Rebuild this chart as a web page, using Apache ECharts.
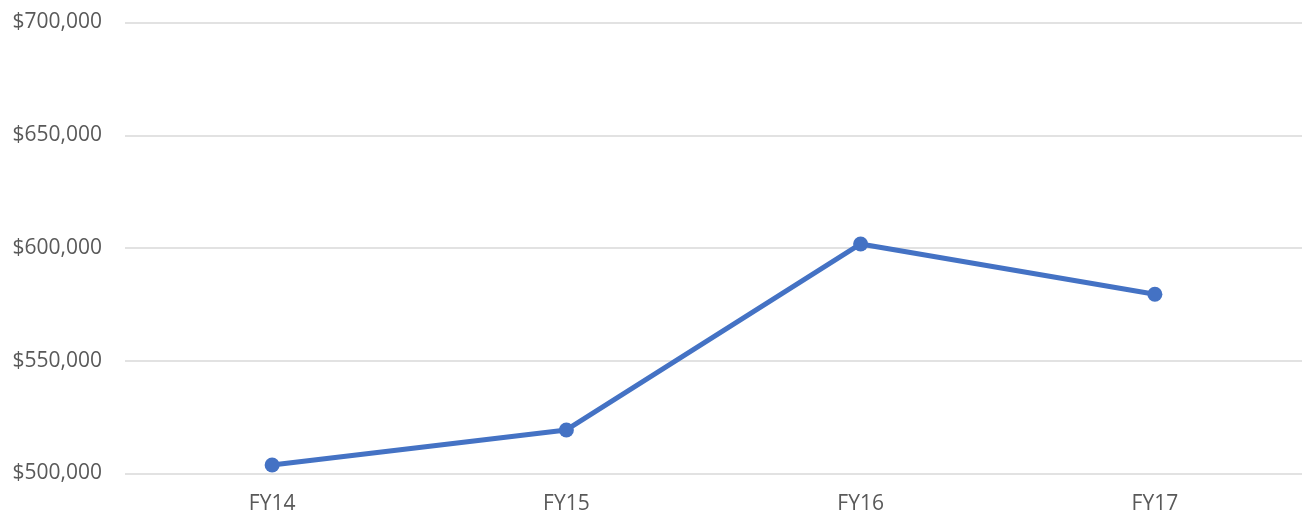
<!DOCTYPE html>
<html>
<head>
<meta charset="utf-8">
<script src="https://cdn.jsdelivr.net/npm/echarts@6/dist/echarts.min.js"></script>
<style>html,body{margin:0;padding:0;background:#fff;}#c{width:1309px;height:521px;}</style>
</head>
<body>
<div id="c"></div>
<script>
const categories = ["FY14", "FY15", "FY16", "FY17"];
const values = [503800, 519300, 601800, 579500];
const yMin = 500000, yMax = 700000, yStep = 50000;

const chart = echarts.init(document.getElementById('c'));
chart.setOption({
  animation: false,
  grid: { left: 125, right: 7, top: 22.5, bottom: 47.5 },
  xAxis: {
    type: 'category',
    data: categories,
    boundaryGap: true,
    axisLine: { show: false },
    axisTick: { show: false },
    axisLabel: { color: '#595959', fontSize: 21, fontFamily: 'Open Sans, Liberation Sans, sans-serif', margin: 20 }
  },
  yAxis: {
    type: 'value',
    min: yMin, max: yMax, interval: yStep,
    axisLine: { show: false },
    axisTick: { show: false },
    splitLine: { lineStyle: { color: '#D9D9D9', width: 1.5 } },
    axisLabel: {
      color: '#595959', fontSize: 21, fontFamily: 'Open Sans, Liberation Sans, sans-serif', margin: 23,
      formatter: v => '$' + v.toLocaleString('en-US')
    }
  },
  series: [{
    type: 'line',
    data: values,
    symbol: 'circle',
    symbolSize: 15,
    lineStyle: { color: '#4472C4', width: 5 },
    itemStyle: { color: '#4472C4' }
  }]
});
</script>
</body>
</html>
